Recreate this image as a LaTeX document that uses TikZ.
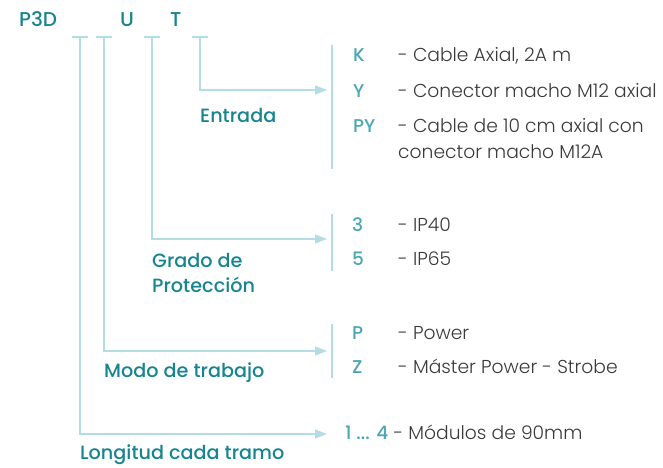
\documentclass[tikz,border=0pt]{standalone}
\usepackage{fontspec}
\setmainfont{Poppins}
\newfontfamily\lightf{Poppins Light}
\newfontfamily\medf{Poppins Medium}
\usetikzlibrary{arrows.meta}
\definecolor{hdr}{HTML}{17858F}
\definecolor{code}{HTML}{4AA6B5}
\definecolor{desc}{HTML}{3A3A3A}
\definecolor{ln}{HTML}{B3DCE3}
\tikzset{
  lbl/.style={anchor=base west, inner sep=0pt, font=\medf\fontsize{19.2}{22}\selectfont, text=hdr},
  cd/.style={anchor=base west, inner sep=0pt, font=\medf\fontsize{18.5}{22}\selectfont, text=code},
  ds/.style={anchor=base west, inner sep=0pt, font=\lightf\fontsize{18.7}{22}\selectfont, text=desc},
  wire/.style={draw=ln, line width=1.3pt},
  arr/.style={wire, -{Triangle[length=12pt,width=9pt]}},
}
\begin{document}
\begin{tikzpicture}[x=1pt,y=-1pt]
\useasboundingbox (0,0) rectangle (663,467);
% header
\node[lbl, font=\medf\fontsize{20}{22}\selectfont] (p3d) at (19,26) {P3D};
\node[lbl, font=\medf\fontsize{20}{22}\selectfont] (u) at (120,26) {U};
\node[lbl, font=\medf\fontsize{20}{22}\selectfont] (t) at (170,26) {T};
% ticks
\coordinate (t1) at (80,37); \coordinate (t2) at (104,37);
\coordinate (t3) at (152,37); \coordinate (t4) at (200,37);
\foreach \c in {t1,t2,t3,t4} \draw[wire] ([xshift=-8pt]\c) -- ([xshift=8pt]\c);
% brackets
\coordinate (b1a) at (332,45); \coordinate (b1b) at (332,169);
\coordinate (b2a) at (332,214); \coordinate (b2b) at (332,271);
\coordinate (b3a) at (332,324); \coordinate (b3b) at (332,378);
\draw[wire] (b1a) -- (b1b);
\draw[wire] (b2a) -- (b2b);
\draw[wire] (b3a) -- (b3b);
% arrow targets
\coordinate (e1) at (327,90); \coordinate (e2) at (327,239);
\coordinate (e3) at (327,351); \coordinate (e4) at (327,434);
\draw[arr] (t4) |- (e1);
\draw[arr] (t3) |- (e2);
\draw[arr] (t2) |- (e3);
\draw[arr] (t1) |- (e4);
% labels
\node[lbl] (entrada) at (200,122) {Entrada};
\node[lbl] (grado) at (152,267) {Grado de};
\node[lbl] (prot) at (152,292) {Protección};
\node[lbl] (modo) at (104,377) {Modo de trabajo};
\node[lbl] (long) at (80,459) {Longitud cada tramo};
% entrada options
\node[cd] (k) at (353,61) {K};
\node[ds] (kd) at (398,61) {- Cable Axial, 2A m};
\node[cd] (y) at (353,97) {Y};
\node[ds] (yd) at (398,97) {- Conector macho M12 axial};
\node[cd] (py) at (353,132) {PY};
\node[ds] (pyd) at (398,132) {- Cable de 10 cm axial con};
\node[ds] (pyd2) at (398,158) {conector macho M12A};
% grado options
\node[cd] (g3) at (352,231) {3};
\node[ds] (g3d) at (398,231) {- IP40};
\node[cd] (g5) at (352,265) {5};
\node[ds] (g5d) at (398,265) {- IP65};
% modo options
\node[cd] (mp) at (352,339) {P};
\node[ds] (mpd) at (398,339) {- Power};
\node[cd] (mz) at (352,373) {Z};
\node[ds] (mzd) at (398,373) {- Máster Power - Strobe};
% longitud
\node[cd] (l14) at (345,439) {1 ... 4};
\node[ds] (l14d) at ([xshift=5pt]l14.base east) {- Módulos de 90mm};
\end{tikzpicture}
\end{document}
